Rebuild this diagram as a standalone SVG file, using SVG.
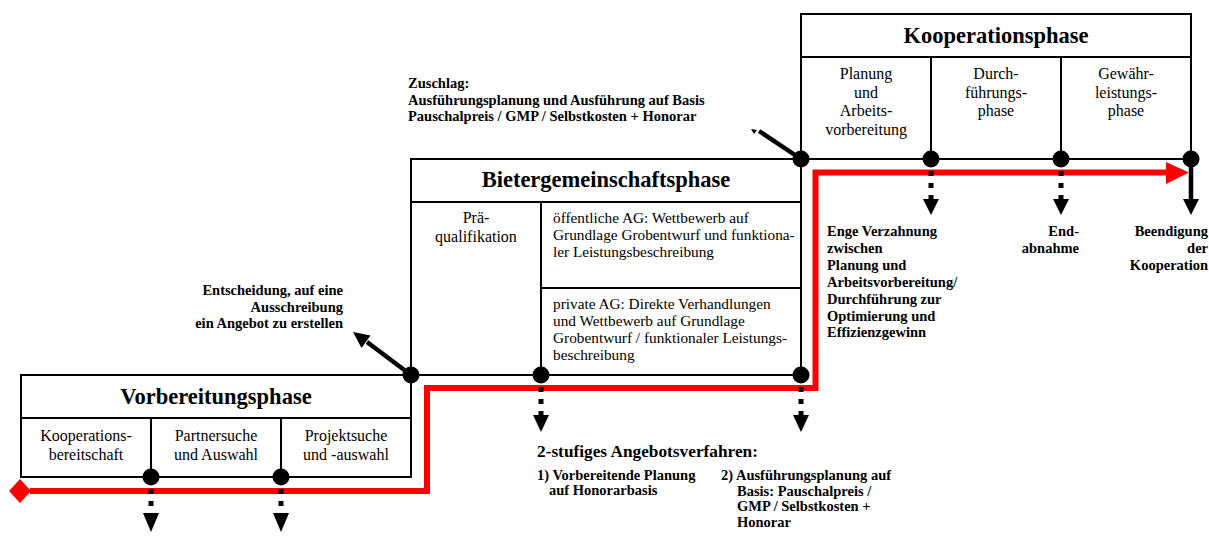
<svg xmlns="http://www.w3.org/2000/svg" width="1209" height="536" viewBox="0 0 1209 536">
<defs>
<style>
.box{fill:#fff;stroke:#000;stroke-width:2}
.ln{stroke:#000;stroke-width:2;fill:none}
.title{font-family:"Liberation Serif","Times New Roman",serif;font-weight:bold;font-size:22.5px;text-anchor:middle;fill:#000}
.col{font-family:"Liberation Serif","Times New Roman",serif;font-size:16px;text-anchor:middle;fill:#000}
.body{font-family:"Liberation Serif","Times New Roman",serif;font-size:15.3px;fill:#000}
.lbl{font-family:"Liberation Serif","Times New Roman",serif;font-weight:bold;font-size:14.5px;fill:#000}
.big{font-family:"Liberation Serif","Times New Roman",serif;font-weight:bold;font-size:17.3px;fill:#000}
.dot{fill:#000}
.dash{stroke:#000;stroke-width:5;stroke-dasharray:5 7;fill:none}
.red{stroke:#ff0000;stroke-width:6;fill:none;stroke-linejoin:miter}
.thick{stroke:#000;stroke-width:4.5;fill:none}
.head{fill:#000}
</style>
</defs>

<g id="vorbereitungsphase">
<rect class="box" x="21" y="375" width="390" height="102"/>
<line class="ln" x1="21" y1="418" x2="411" y2="418"/>
<line class="ln" x1="151" y1="418" x2="151" y2="477"/>
<line class="ln" x1="281" y1="418" x2="281" y2="477"/>
<text class="title" x="216" y="404">Vorbereitungsphase</text>
<text class="col" x="86" y="441">Kooperations-</text>
<text class="col" x="86" y="460">bereitschaft</text>
<text class="col" x="216" y="441">Partnersuche</text>
<text class="col" x="216" y="460">und Auswahl</text>
<text class="col" x="346" y="441">Projektsuche</text>
<text class="col" x="346" y="460">und -auswahl</text>
</g>

<g id="bietergemeinschaftsphase">
<rect class="box" x="411" y="159" width="390" height="216"/>
<line class="ln" x1="411" y1="202" x2="801" y2="202"/>
<line class="ln" x1="541" y1="202" x2="541" y2="375"/>
<line class="ln" x1="541" y1="288" x2="801" y2="288"/>
<text class="title" x="606" y="187">Bietergemeinschaftsphase</text>
<text class="col" x="476" y="223">Prä-</text>
<text class="col" x="476" y="242">qualifikation</text>
<text class="body" x="553" y="223">öffentliche AG: Wettbewerb auf</text>
<text class="body" x="553" y="240">Grundlage Grobentwurf und funktiona-</text>
<text class="body" x="553" y="257">ler Leistungsbeschreibung</text>
<text class="body" x="553" y="309">private AG: Direkte Verhandlungen</text>
<text class="body" x="553" y="326">und Wettbewerb auf Grundlage</text>
<text class="body" x="553" y="343">Grobentwurf / funktionaler Leistungs-</text>
<text class="body" x="553" y="360">beschreibung</text>
</g>

<g id="kooperationsphase">
<rect class="box" x="801" y="14" width="390" height="145"/>
<line class="ln" x1="801" y1="57" x2="1191" y2="57"/>
<line class="ln" x1="931" y1="57" x2="931" y2="159"/>
<line class="ln" x1="1061" y1="57" x2="1061" y2="159"/>
<text class="title" x="996" y="43">Kooperationsphase</text>
<text class="col" x="866" y="79">Planung</text>
<text class="col" x="866" y="97.5">und</text>
<text class="col" x="866" y="116">Arbeits-</text>
<text class="col" x="866" y="134.5">vorbereitung</text>
<text class="col" x="996" y="79">Durch-</text>
<text class="col" x="996" y="97.5">führungs-</text>
<text class="col" x="996" y="116">phase</text>
<text class="col" x="1126" y="79">Gewähr-</text>
<text class="col" x="1126" y="97.5">leistungs-</text>
<text class="col" x="1126" y="116">phase</text>
</g>

<g id="connectors">
<path class="red" d="M30,491 H427 V388 H815.5 V172.5 H1168"/>
<polygon points="9,491 20,479 31,491 20,503" fill="#ff0000"/>
<polygon points="1166,162 1189,172.5 1166,184" fill="#ff0000"/>

<line class="thick" x1="411" y1="375" x2="367" y2="342"/>
<polygon class="head" points="353,332 370.5,335.5 361.5,348"/>
<line class="thick" x1="801" y1="159" x2="759" y2="131"/>
<polygon class="head" points="751,129 757,130 754,134"/>

<line class="thick" x1="1191" y1="159" x2="1191" y2="200"/>
<polygon class="head" points="1183,199 1199,199 1191,215"/>

<line class="dash" x1="151" y1="489" x2="151" y2="515"/>
<polygon class="head" points="143,513 159,513 151,532"/>
<line class="dash" x1="281" y1="489" x2="281" y2="515"/>
<polygon class="head" points="273,513 289,513 281,532"/>
<line class="dash" x1="541" y1="387" x2="541" y2="416"/>
<polygon class="head" points="533,415 549,415 541,432"/>
<line class="dash" x1="801" y1="387" x2="801" y2="416"/>
<polygon class="head" points="793,415 809,415 801,432"/>
<line class="dash" x1="931" y1="171" x2="931" y2="200"/>
<polygon class="head" points="923,199 939,199 931,215"/>
<line class="dash" x1="1061" y1="171" x2="1061" y2="200"/>
<polygon class="head" points="1053,199 1069,199 1061,215"/>

<circle class="dot" cx="151" cy="477" r="8.5"/>
<circle class="dot" cx="281" cy="477" r="8.5"/>
<circle class="dot" cx="411" cy="375" r="8.5"/>
<circle class="dot" cx="541" cy="375" r="8.5"/>
<circle class="dot" cx="801" cy="375" r="8.5"/>
<circle class="dot" cx="801" cy="159" r="8.5"/>
<circle class="dot" cx="931" cy="159" r="8.5"/>
<circle class="dot" cx="1061" cy="159" r="8.5"/>
<circle class="dot" cx="1191" cy="159" r="8.5"/>
</g>

<g id="label-zuschlag">
<text class="lbl" x="408" y="88">Zuschlag:</text>
<text class="lbl" x="408" y="104.5">Ausführungsplanung und Ausführung auf Basis</text>
<text class="lbl" x="408" y="121">Pauschalpreis / GMP / Selbstkosten + Honorar</text>
</g>

<g id="label-entscheidung" text-anchor="end">
<text class="lbl" x="343" y="295">Entscheidung, auf eine</text>
<text class="lbl" x="343" y="311.5">Ausschreibung</text>
<text class="lbl" x="343" y="328">ein Angebot zu erstellen</text>
</g>

<g id="label-verzahnung">
<text class="lbl" x="827" y="236">Enge Verzahnung</text>
<text class="lbl" x="827" y="253">zwischen</text>
<text class="lbl" x="827" y="270">Planung und</text>
<text class="lbl" x="827" y="287">Arbeitsvorbereitung/</text>
<text class="lbl" x="827" y="304">Durchführung zur</text>
<text class="lbl" x="827" y="320.5">Optimierung und</text>
<text class="lbl" x="827" y="337">Effizienzgewinn</text>
</g>

<g id="label-endabnahme" text-anchor="end">
<text class="lbl" x="1079" y="236">End-</text>
<text class="lbl" x="1079" y="253">abnahme</text>
</g>

<g id="label-beendigung" text-anchor="end">
<text class="lbl" x="1208" y="236">Beendigung</text>
<text class="lbl" x="1208" y="253">der</text>
<text class="lbl" x="1208" y="270">Kooperation</text>
</g>

<g id="label-angebotsverfahren">
<text class="big" x="537" y="457">2-stufiges Angebotsverfahren:</text>
<text class="lbl" x="537" y="480">1) Vorbereitende Planung</text>
<text class="lbl" x="549" y="495">auf Honorarbasis</text>
<text class="lbl" x="721" y="480">2) Ausführungsplanung auf</text>
<text class="lbl" x="737" y="495.5">Basis: Pauschalpreis /</text>
<text class="lbl" x="737" y="511">GMP / Selbstkosten +</text>
<text class="lbl" x="737" y="527">Honorar</text>
</g>
</svg>
